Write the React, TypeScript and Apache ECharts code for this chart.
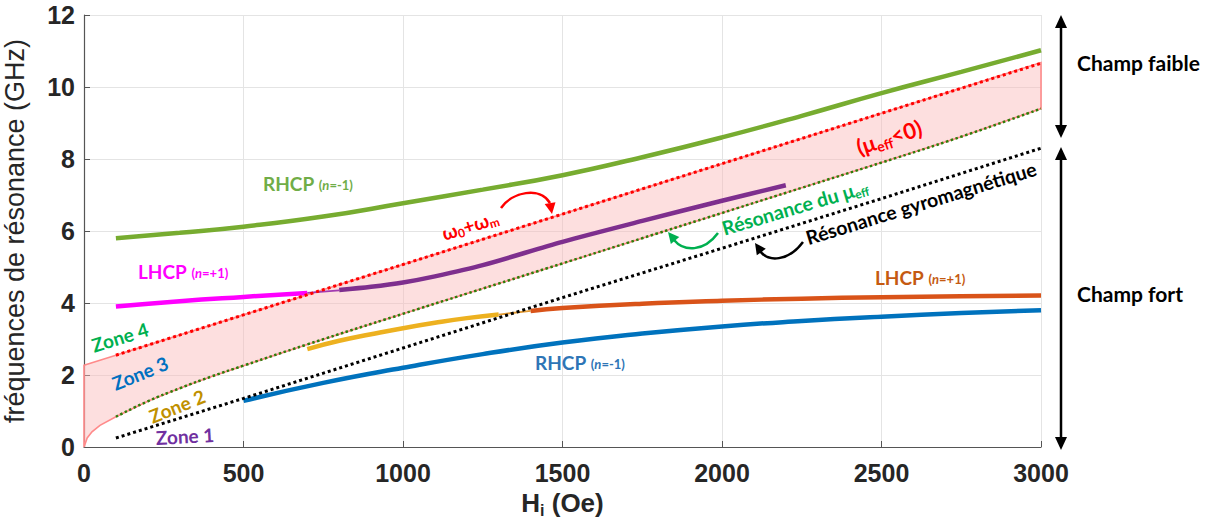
import React, { useEffect, useRef } from "react";
import * as echarts from "echarts";

// ---- data ----
const X_TICKS = [0, 500, 1000, 1500, 2000, 2500, 3000];

const H_FILL = [0, 10, 25, 50, 100, 200, 300, 400, 500, 700, 1000, 1250, 1500, 1750, 2000, 2250, 2500, 2750, 3000];
const F_FILL_LOW = [0, 0.25, 0.42, 0.6, 0.84, 1.27, 1.63, 1.96, 2.26, 2.85, 3.7, 4.4, 5.1, 5.8, 6.5, 7.2, 7.9, 8.62, 9.4];
const F_FILL_HIGH = [2.27, 2.3, 2.34, 2.41, 2.55, 2.83, 3.11, 3.39, 3.67, 4.23, 5.07, 5.77, 6.47, 7.17, 7.87, 8.57, 9.27, 9.97, 10.68];

const H_W0WM = [100, 500, 1000, 1500, 2000, 2500, 3000];
const F_W0WM = [2.55, 3.67, 5.07, 6.47, 7.87, 9.27, 10.66];

const H_MUEFF = [100, 200, 300, 400, 500, 700, 1000, 1250, 1500, 1750, 2000, 2250, 2500, 2750, 3000];
const F_MUEFF = [0.84, 1.27, 1.63, 1.96, 2.26, 2.85, 3.7, 4.4, 5.1, 5.8, 6.5, 7.2, 7.9, 8.62, 9.4];

const H_GYRO = [100, 500, 1000, 1500, 2000, 2500, 3000];
const F_GYRO = [0.25, 1.35, 2.75, 4.15, 5.52, 6.9, 8.3];

const H_RHCP_TOP = [100, 300, 500, 750, 1000, 1250, 1500, 1750, 2000, 2250, 2500, 2750, 3000];
const F_RHCP_TOP = [5.8, 5.95, 6.12, 6.4, 6.77, 7.15, 7.55, 8.05, 8.6, 9.2, 9.83, 10.42, 11.02];

const H_LHCP_MAG = [100, 300, 500, 700];
const F_LHCP_MAG = [3.9, 4.05, 4.17, 4.28];

const H_LINK_PURPLE = [700, 800];
const F_LINK_PURPLE = [4.28, 4.35];

const H_PURPLE = [800, 900, 1000, 1100, 1250, 1500, 1750, 2000, 2200];
const F_PURPLE = [4.36, 4.45, 4.57, 4.74, 5.05, 5.7, 6.28, 6.84, 7.27];

const H_YELLOW = [700, 800, 900, 1000, 1100, 1200, 1300];
const F_YELLOW = [2.72, 2.95, 3.13, 3.3, 3.45, 3.58, 3.68];

const H_LINK_YELLOW = [1300, 1400];
const F_LINK_YELLOW = [3.68, 3.78];

const H_LHCP_ORANGE = [1400, 1500, 1750, 2000, 2250, 2500, 2750, 3000];
const F_LHCP_ORANGE = [3.78, 3.86, 3.98, 4.06, 4.12, 4.16, 4.19, 4.21];

const H_RHCP_BLUE = [500, 750, 1000, 1250, 1500, 1750, 2000, 2250, 2500, 2750, 3000];
const F_RHCP_BLUE = [1.28, 1.78, 2.2, 2.58, 2.9, 3.15, 3.35, 3.5, 3.62, 3.72, 3.8];

const zip = (xs: number[], ys: number[]) => xs.map((x, i) => [x, ys[i]]);

const ANN_FONT = "Lato, 'Open Sans', sans-serif";
const AX_FONT = "'Liberation Sans', Arial, sans-serif";
const deg = (d: number) => (d * Math.PI) / 180;

function arrowHead(tx: number, ty: number, angleDeg: number, color: string, len = 11, half = 5.5) {
  const a = deg(angleDeg);
  const dx = Math.cos(a), dy = Math.sin(a);
  const bx = tx - dx * len, by = ty - dy * len;
  const px = -dy, py = dx;
  return {
    type: "polygon",
    z: 100,
    shape: { points: [[tx, ty], [bx + px * half, by + py * half], [bx - px * half, by - py * half]] },
    style: { fill: color },
  };
}

function curve(p: number[][], color: string) {
  return {
    type: "bezierCurve",
    z: 100,
    shape: { x1: p[0][0], y1: p[0][1], cpx1: p[1][0], cpy1: p[1][1], cpx2: p[2][0], cpy2: p[2][1], x2: p[3][0], y2: p[3][1] },
    style: { stroke: color, lineWidth: 2.5, fill: "none" },
  };
}

function label(x: number, y: number, rich: any, text: string, rotDeg = 0, align = "center") {
  return {
    type: "text",
    z: 100,
    x,
    y,
    rotation: deg(rotDeg),
    style: {
      text,
      rich,
      align,
      verticalAlign: "middle",
      font: `bold 18px ${ANN_FONT}`,
    },
  };
}

function polRich(color: string) {
  return {
    b: { fontFamily: ANN_FONT, fontWeight: "bold", fontSize: 19, fill: color },
    s: { fontFamily: ANN_FONT, fontWeight: "bold", fontSize: 13, fill: color, padding: [4, 0, 0, 0] },
    i: { fontFamily: ANN_FONT, fontWeight: "bold", fontStyle: "italic", fontSize: 13, fill: color, padding: [4, 0, 0, 0] },
  };
}
function polText(kind: string, n: string) {
  return `{b|${kind} }{s|(}{i|n}{s|=${n})}`;
}

function simpleRich(color: string, size = 17) {
  return {
    t: { fontFamily: ANN_FONT, fontWeight: "bold", fontSize: size, fill: color },
    sub: { fontFamily: ANN_FONT, fontWeight: "bold", fontSize: Math.round(size * 0.62), fill: color, padding: [Math.round(size * 0.55), 0, 0, 0] },
  };
}

export default function App() {
  const ref = useRef<HTMLDivElement>(null);
  useEffect(() => {
    document.body.style.margin = "0";
    const chart = echarts.init(ref.current!, undefined, { renderer: "svg" });

    const line = (name: string, data: number[][], color: string, width: number, type: any = "solid", smooth: any = true, z = 3) => ({
      name,
      type: "line",
      data,
      symbol: "none",
      smooth,
      z,
      lineStyle: { color, width, type, cap: "butt" },
    });

    const option: any = {
      animation: false,
      backgroundColor: "#ffffff",
      grid: { left: 84, top: 15, width: 957, height: 432, containLabel: false, outerBoundsMode: "none" },
      xAxis: {
        type: "value",
        min: 0,
        max: 3000,
        interval: 500,
        name: "{m|H}{sub|i}{m| (Oe)}",
        nameLocation: "middle",
        nameGap: 38,
        nameTextStyle: {
          rich: {
            m: { fontFamily: AX_FONT, fontWeight: "bold", fontSize: 26, color: "#262626" },
            sub: { fontFamily: AX_FONT, fontWeight: "bold", fontSize: 16, color: "#262626", padding: [16, 0, 0, 0] },
          },
        },
        axisLine: { show: true, onZero: false, lineStyle: { color: "#555555", width: 1.2 } },
        axisTick: { show: true, inside: true, length: 6, lineStyle: { color: "#555555" } },
        axisLabel: {
          fontFamily: AX_FONT,
          fontWeight: "bold",
          fontSize: 25,
          color: "#262626",
          margin: 13,
          formatter: (v: number) => (X_TICKS.includes(v) ? String(v) : ""),
        },
        splitLine: { show: true, lineStyle: { color: "#e4e4e4", width: 1 } },
      },
      yAxis: {
        type: "value",
        min: 0,
        max: 12,
        interval: 2,
        name: "fréquences de résonance (GHz)",
        nameLocation: "middle",
        nameGap: 56,
        nameRotate: 90,
        nameTextStyle: { fontFamily: AX_FONT, fontSize: 27, color: "#262626" },
        axisLine: { show: true, onZero: false, lineStyle: { color: "#555555", width: 1.2 } },
        axisTick: { show: true, inside: true, length: 6, lineStyle: { color: "#555555" } },
        axisLabel: { fontFamily: AX_FONT, fontWeight: "bold", fontSize: 25, color: "#262626", margin: 9 },
        splitLine: { show: true, lineStyle: { color: "#e4e4e4", width: 1 } },
      },
      series: [
        {
          name: "zone",
          type: "custom",
          z: 1,
          data: H_FILL.map((h, i) => [h, F_FILL_LOW[i], F_FILL_HIGH[i]]),
          renderItem: (params: any, api: any) => {
            if (params.dataIndex !== 0) return null;
            const lower = H_FILL.map((h, i) => api.coord([h, F_FILL_LOW[i]]));
            const upper = H_FILL.map((h, i) => api.coord([h, F_FILL_HIGH[i]])).reverse();
            return {
              type: "polygon",
              shape: { points: lower.concat(upper), smooth: 0 },
              style: { fill: "rgba(250, 185, 185, 0.45)", stroke: "#ff8a8a", lineWidth: 1.6 },
            };
          },
        },
        line("w0wm", zip(H_W0WM, F_W0WM), "#ff0000", 3, "dotted", false, 4),
        line("mueff", zip(H_MUEFF, F_MUEFF), "#2f7d0a", 2.5, "dotted", true, 4),
        line("gyro", zip(H_GYRO, F_GYRO), "#000000", 3, "dotted", false, 4),
        line("rhcp_top", zip(H_RHCP_TOP, F_RHCP_TOP), "#77ac30", 4.5),
        line("lhcp_mag", zip(H_LHCP_MAG, F_LHCP_MAG), "#ff00ff", 4.5),
        line("link_purple", zip(H_LINK_PURPLE, F_LINK_PURPLE), "#a23ab0", 1.8, "solid", false),
        line("purple", zip(H_PURPLE, F_PURPLE), "#7e2f8e", 4.5, "solid", 0.3),
        line("yellow", zip(H_YELLOW, F_YELLOW), "#edb120", 4.5),
        line("link_yellow", zip(H_LINK_YELLOW, F_LINK_YELLOW), "#e39a33", 1.8, "solid", false),
        line("lhcp_orange", zip(H_LHCP_ORANGE, F_LHCP_ORANGE), "#d95319", 4.5),
        line("rhcp_blue", zip(H_RHCP_BLUE, F_RHCP_BLUE), "#0072bd", 4.5),
      ],
      graphic: [
        label(263, 183, polRich("#70ad47"), polText("RHCP", "-1"), 0, "left"),
        label(138, 271, polRich("#ff00ff"), polText("LHCP", "+1"), 0, "left"),
        label(875, 277, polRich("#c55a11"), polText("LHCP", "+1"), 0, "left"),
        label(535, 362, polRich("#2e75b6"), polText("RHCP", "-1"), 0, "left"),
        label(120, 337, simpleRich("#00b050", 19), "{t|Zone 4}", 17),
        label(140, 373, simpleRich("#0070c0", 19), "{t|Zone 3}", 22),
        label(177, 406, simpleRich("#bf9000", 19), "{t|Zone 2}", 22),
        label(185, 436, simpleRich("#7030a0", 19), "{t|Zone 1}", 3),
        label(470, 225, simpleRich("#ff0000", 19), "{t|ω}{sub|0}{t|+ω}{sub|m}", 17),
        label(889, 137, simpleRich("#ff0000", 22), "{t|(μ}{sub|eff}{t|<0)}", 18),
        label(795, 207, simpleRich("#00b050", 19.5), "{t|Résonance du μ}{sub|eff}", 16.5),
        label(921, 203, simpleRich("#000000", 19.5), "{t|Résonance gyromagnétique}", 17),
        curve([[501, 208], [512, 192], [540, 186], [550, 203]], "#ff0000"),
        arrowHead(552, 214, 80, "#ff0000"),
        curve([[718, 233], [704, 252], [684, 252], [674, 240]], "#00b050"),
        arrowHead(668, 232, 230, "#00b050"),
        curve([[803, 242], [788, 262], [768, 262], [760, 251]], "#000000"),
        arrowHead(755, 243, 235, "#000000"),
        { type: "line", z: 100, shape: { x1: 1061, y1: 24, x2: 1061, y2: 129 }, style: { stroke: "#000", lineWidth: 2.5 } },
        arrowHead(1061, 15, -90, "#000", 13, 6),
        arrowHead(1061, 138, 90, "#000", 13, 6),
        { type: "line", z: 100, shape: { x1: 1061, y1: 156, x2: 1061, y2: 441 }, style: { stroke: "#000", lineWidth: 2.5 } },
        arrowHead(1061, 147, -90, "#000", 13, 6),
        arrowHead(1061, 450, 90, "#000", 13, 6),
        label(1077, 62, simpleRich("#000000", 21), "{t|Champ faible}", 0, "left"),
        label(1077, 293, simpleRich("#000000", 21), "{t|Champ fort}", 0, "left"),
      ],
    };
    chart.setOption(option);
    return () => chart.dispose();
  }, []);
  return <div ref={ref} style={{ width: 1214, height: 522, position: "absolute", left: 0, top: 0 }} />;
}
